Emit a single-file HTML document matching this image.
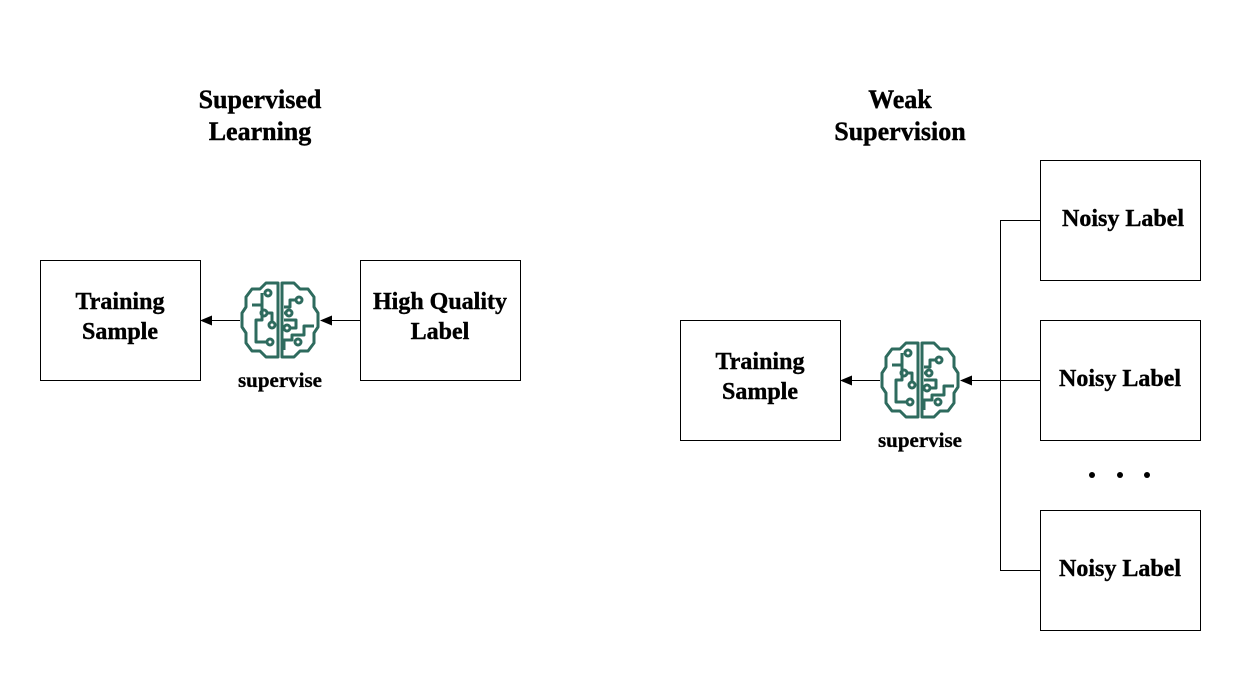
<!DOCTYPE html>
<html><head><style>
body{margin:0;background:#fff;}
.t{font-family:"Liberation Serif",serif;font-weight:bold;font-size:24px;fill:#000;stroke:#000;stroke-width:0.4;}
.h{font-family:"Liberation Serif",serif;font-weight:bold;font-size:26px;fill:#000;stroke:#000;stroke-width:0.4;}
.s{font-family:"Liberation Serif",serif;font-weight:bold;font-size:21px;fill:#000;stroke:#000;stroke-width:0.3;}
</style></head><body>
<svg width="1240" height="670" xmlns="http://www.w3.org/2000/svg">
<defs>
<marker id="a" markerWidth="12" markerHeight="10" refX="11" refY="5" orient="auto" markerUnits="userSpaceOnUse"><path d="M0,0 L12,5 L0,10 z" fill="#000"/></marker>
<g id="brain" fill="none" stroke="#2e6b5e" stroke-width="3" stroke-linejoin="round">
<path d="M38,3 H26 L20,9 H12 L6,17 V27 L2,33 V47 L6,53 V63 L12,71 H20 L26,77 H38 Z"/>
<path d="M42,3 H54 L60,9 H68 L74,17 V27 L78,33 V47 L74,53 V63 L68,71 H60 L54,77 H42 Z"/>
<path d="M12,25 H22 V13 M22,25 V40 H16 V62 H24"/>
<circle cx="28" cy="13" r="3"/>
<path d="M26,33 H32 V42"/><circle cx="24" cy="33" r="3"/><circle cx="32" cy="45" r="3"/>
<circle cx="30" cy="62" r="3"/><path d="M27,62 H24"/>
<path d="M44,27 H50 V20 H56"/><circle cx="59" cy="20" r="3"/>
<circle cx="49" cy="33" r="3"/><path d="M46,33 H44"/>
<path d="M44,40 H56 V48 H50"/><circle cx="47" cy="48" r="3"/>
<path d="M44,70 V60 H52 V55 H64 V46 H74"/>
<circle cx="58" cy="62" r="3"/>
</g>
</defs>
<text class="h" x="260" y="108" text-anchor="middle">Supervised</text>
<text class="h" x="260" y="140" text-anchor="middle">Learning</text>
<text class="h" x="900" y="108" text-anchor="middle">Weak</text>
<text class="h" x="900" y="140" text-anchor="middle">Supervision</text>
<g fill="none" stroke="#000" stroke-width="1">
<rect x="40.5" y="260.5" width="160" height="120"/>
<rect x="360.5" y="260.5" width="160" height="120"/>
<rect x="680.5" y="320.5" width="160" height="120"/>
<rect x="1040.5" y="160.5" width="160" height="120"/>
<rect x="1040.5" y="320.5" width="160" height="120"/>
<rect x="1040.5" y="510.5" width="160" height="120"/>
<path d="M240,320.5 H201" marker-end="url(#a)"/>
<path d="M360,320.5 H321" marker-end="url(#a)"/>
<path d="M880,380.5 H841" marker-end="url(#a)"/>
<path d="M1040,380.5 H961" marker-end="url(#a)"/>
<path d="M1040,220.5 H1000.5 V570.5 H1040"/>
</g>
<use href="#brain" x="240" y="280"/>
<use href="#brain" x="880" y="340"/>
<text class="t" x="120" y="309" text-anchor="middle">Training</text>
<text class="t" x="120" y="339" text-anchor="middle">Sample</text>
<text class="t" x="440" y="309" text-anchor="middle">High Quality</text>
<text class="t" x="440" y="339" text-anchor="middle">Label</text>
<text class="s" x="280" y="387" text-anchor="middle">supervise</text>
<text class="t" x="760" y="369" text-anchor="middle">Training</text>
<text class="t" x="760" y="399" text-anchor="middle">Sample</text>
<text class="s" x="920" y="447" text-anchor="middle">supervise</text>
<text class="t" x="1123" y="226" text-anchor="middle">Noisy Label</text>
<text class="t" x="1120" y="386" text-anchor="middle">Noisy Label</text>
<text class="t" x="1120" y="576" text-anchor="middle">Noisy Label</text>
<circle cx="1092" cy="475" r="3"/><circle cx="1120" cy="475" r="3"/><circle cx="1147" cy="475" r="3"/>
</svg>
</body></html>
